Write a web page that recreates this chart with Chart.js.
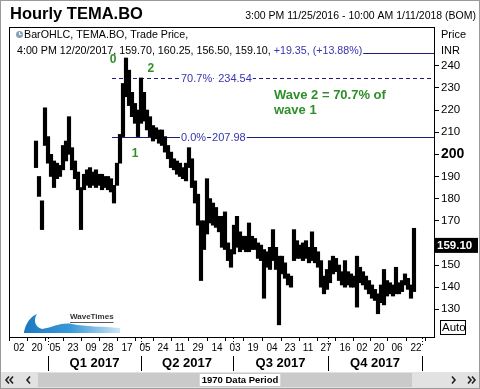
<!DOCTYPE html>
<html><head><meta charset="utf-8">
<script src="https://cdn.jsdelivr.net/npm/chart.js@4/dist/chart.umd.min.js"></script>
<style>html,body{margin:0;padding:0;background:#fff}#wrap{width:480px;height:389px;position:relative}</style>
</head><body><div id="wrap"><canvas id="c" width="480" height="389"></canvas></div>
<script>
// ---- data (one column ≈ 2 trading days, hourly high/low envelope) ----
const barLows  = [194,181,166,204,196,190,185,189,190,193,197,200,193,189,184,166,184,186,185,186,185,186,184,185,184,183,178,186,196,208,226,222,217,214,208,214,215,211,208,206,207,205,204,201,198,194,193,191,190,189,188,194,185,178,168,143,157,164,169,168,167,165,158,157,152,149,155,158,156,157,156,156,157,157,153,152,135,149,148,152,148,123,146,144,141,140,152,153,153,152,153,151,152,151,149,140,137,139,142,146,147,143,141,140,141,140,140,131,142,141,139,137,135,134,128,133,132,136,137,136,137,137,138,141,139,135,138];
const barHighs = [206,190,179,221,208,200,197,196,195,204,206,217,203,197,192,185,191,193,194,192,193,191,191,190,190,189,186,196,209,232,243.5,238,228,223,220,234.5,228,220,217,213,212,211,211,208,204,201,198,197,196,194,196,203,198,188,182,170,170,189,180,178,176,172,172,174,160,157,168,172,165,163,163,169,163,162,160,159,157,156,158,166,158,154,154,151,146,145,166,161,159,160,161,158,165,158,156,152,145,148,152,154,153,150,147,152,147,146,145,154,149,147,145,143,141,139,137,141,148,143,142,141,149,142,143,146,144,141,166.6];
const dateTickIndex  = [-5.67,0.33,6.33,12.33,18.33,24,30.33,36.33,42.33,48,54,60.33,66.33,72.33,78.67,84.67,90.67,96.67,103,108.67,114.33,120.33,126.67];
const dateTickLabels = ['02','20','05','23','09','28','17','05','24','11','29','14','03','19','04','23','11','27','16','02','20','06','22'];
const quarterBounds  = [4,35,65.67,97.33,128.67];
const quarterLabels  = ['Q1 2017','Q2 2017','Q3 2017','Q4 2017'];
const priceTicks     = [130,140,150,160,170,180,190,200,210,220,230,240];
const fibStartIndex  = 25.33;
const fibPercents    = ['100%','70.7%','0.0%'];
const fibPrices      = [245.55,234.54,207.98];
const waveLabels     = ['0','1','2'];
const waveIndex      = [25.7,33,38.3];
const wavePrice      = [242.8,200.2,238.8];
const lastClose      = 159.10;
const headerTitle    = 'Hourly TEMA.BO';
const headerRange    = '3:00 PM 11/25/2016 - 10:00 AM 1/11/2018 (BOM)';
const infoLine1      = 'BarOHLC, TEMA.BO, Trade Price,';
const infoLine2a     = '4:00 PM 12/20/2017, 159.70, 160.25, 156.50, 159.10, ';
const infoLine2b     = '+19.35, (+13.88%)';
const noteLines      = ['Wave 2 = 70.7% of','wave 1'];
const dataPeriodText = '1970 Data Period';

const FONT = '"Liberation Sans", Arial, sans-serif';
const BLUE = '#3535b0', NAVY = '#1c1c7a', GREEN = '#2f8f2a';

const bars = barLows.map((lo,i)=>({x:i, y:[lo, barHighs[i]]}));

const decor = {
  id:'decor',
  beforeDatasetsDraw(chart){
    const ctx = chart.ctx, xs = chart.scales.x, ys = chart.scales.y, a = chart.chartArea;
    ctx.save();
    const x0 = xs.getPixelForValue(fibStartIndex);
    fibPrices.forEach((p,k)=>{
      const y = Math.round(ys.getPixelForValue(p))+0.5;
      ctx.strokeStyle = NAVY; ctx.lineWidth = 1;
      ctx.setLineDash(k===1?[4,3]:[]);
      ctx.beginPath(); ctx.moveTo(x0,y); ctx.lineTo(a.right,y); ctx.stroke();
    });
    ctx.setLineDash([]);
    // logo
    const lx = a.left+15, ly = a.bottom-5;
    const g = ctx.createLinearGradient(lx,0,lx+96,0);
    g.addColorStop(0,'#1a78c2'); g.addColorStop(0.5,'#3d9ad8'); g.addColorStop(1,'#cde6f6');
    ctx.fillStyle = g;
    ctx.beginPath(); ctx.moveTo(lx,ly);
    ctx.bezierCurveTo(lx+2,ly-9,lx+6,ly-15,lx+13,ly-18);
    ctx.bezierCurveTo(lx+9,ly-12,lx+11,ly-5,lx+18,ly-3);
    ctx.bezierCurveTo(lx+30,ly-5,lx+38,ly-10,lx+48,ly-8);
    ctx.bezierCurveTo(lx+62,ly-5,lx+78,ly-6,lx+96,ly-4);
    ctx.lineTo(lx+96,ly+1); ctx.lineTo(lx,ly+1); ctx.closePath(); ctx.fill();
    ctx.fillStyle='#333'; ctx.font='bold 8px '+FONT; ctx.textBaseline='middle'; ctx.textAlign='left';
    ctx.fillText('WaveTimes', lx+46, ly-15);
    ctx.fillRect(lx+46, ly-10, ctx.measureText('WaveTimes').width, 0.8);
    ctx.restore();
  },
  afterDraw(chart){
    const ctx = chart.ctx, xs = chart.scales.x, ys = chart.scales.y, a = chart.chartArea;
    ctx.save();
    // frame
    ctx.strokeStyle='#000'; ctx.lineWidth=1;
    ctx.strokeRect(a.left+0.5, a.top+0.5, a.right-a.left, a.bottom-a.top);
    ctx.strokeStyle='#9a9a9a'; ctx.strokeRect(0.5,0.5,479,388);
    // header
    ctx.fillStyle='#000'; ctx.textBaseline='middle'; ctx.textAlign='left';
    ctx.font='bold 16.5px '+FONT; ctx.fillText(headerTitle, 10, 14);
    ctx.font='10.5px '+FONT; ctx.textAlign='right'; ctx.fillText(headerRange, 476, 16);
    // info lines
    ctx.textAlign='left'; ctx.font='10.7px '+FONT;
    const w2a = ctx.measureText(infoLine2a).width, w2b = ctx.measureText(infoLine2b).width;
    ctx.fillStyle='#fff'; ctx.fillRect(16, 45, w2a+w2b+2, 12);
    ctx.fillStyle='#000'; ctx.fillText(infoLine1, 24, 35);
    ctx.fillText(infoLine2a, 17, 51);
    ctx.fillStyle=BLUE; ctx.fillText(infoLine2b, 17+w2a, 51);
    // clock icon
    ctx.fillStyle='#8aa0b8'; ctx.beginPath(); ctx.arc(19.5,34.5,3.5,0,Math.PI*2); ctx.fill();
    ctx.strokeStyle='#fff'; ctx.beginPath(); ctx.moveTo(19.5,32); ctx.lineTo(19.5,34.5); ctx.lineTo(21.5,34.5); ctx.stroke();
    // fib labels
    const x0 = xs.getPixelForValue(fibStartIndex);
    ctx.font='11px '+FONT;
    fibPrices.forEach((p,k)=>{
      if(k===0) return;
      const y = Math.round(ys.getPixelForValue(p))+0.5;
      const px = x0 + 69;
      const t1 = fibPercents[k], t2 = p.toFixed(2);
      const w1 = ctx.measureText(t1).width, w2 = ctx.measureText(t2).width;
      const vx = px + w1 + 6;
      ctx.fillStyle='#fff'; ctx.fillRect(px-1,y-6,w1+2,12); ctx.fillRect(vx-1,y-6,w2+2,12);
      ctx.fillStyle=BLUE; ctx.fillText(t1, px, y); ctx.fillText(t2, vx, y);
    });
    // wave labels
    ctx.font='bold 12px '+FONT; ctx.fillStyle=GREEN; ctx.textAlign='center';
    waveLabels.forEach((t,k)=>ctx.fillText(t, xs.getPixelForValue(waveIndex[k]), ys.getPixelForValue(wavePrice[k])));
    ctx.font='bold 13px '+FONT; ctx.textAlign='left';
    ctx.fillText(noteLines[0], 274, 95); ctx.fillText(noteLines[1], 274, 110);
    // right side labels
    ctx.fillStyle='#000'; ctx.font='11px '+FONT;
    ctx.fillText('Price', 441, 35); ctx.fillText('INR', 441, 51);
    const cy = ys.getPixelForValue(lastClose);
    ctx.fillStyle='#000'; ctx.fillRect(435, cy-7, 43, 15);
    ctx.fillStyle='#fff'; ctx.font='bold 11.5px '+FONT; ctx.fillText(lastClose.toFixed(2), 437, cy+0.5);
    ctx.fillStyle='#000'; ctx.font='11.5px '+FONT;
    ctx.strokeStyle='#000'; ctx.strokeRect(440.5, 320.5, 25, 14);
    ctx.fillText('Auto', 442, 328);
    // quarters
    ctx.font='bold 13px '+FONT; ctx.textAlign='center';
    quarterBounds.forEach(q=>{
      const x = Math.round(xs.getPixelForValue(q))+0.5;
      ctx.beginPath(); ctx.moveTo(x,356); ctx.lineTo(x,371); ctx.stroke();
      ctx.setLineDash([1,2]); ctx.beginPath(); ctx.moveTo(x,338); ctx.lineTo(x,346); ctx.stroke(); ctx.setLineDash([]);
    });
    quarterLabels.forEach((t,k)=>{
      const x = (xs.getPixelForValue(quarterBounds[k])+xs.getPixelForValue(quarterBounds[k+1]))/2;
      ctx.fillText(t, x, 363);
    });
    // bottom scroll bar
    ctx.fillStyle='#e2e2e2'; ctx.fillRect(1,372,478,16);
    ctx.fillStyle='#cacaca'; ctx.fillRect(38,373,374,14);
    ctx.font='bold 9.5px '+FONT; ctx.textAlign='center';
    const wd = ctx.measureText(dataPeriodText).width;
    ctx.fillStyle='#fff'; ctx.fillRect(240-wd/2-2,374,wd+4,12);
    ctx.fillStyle='#000'; ctx.fillText(dataPeriodText, 240, 380.5);
    ctx.strokeStyle='#222'; ctx.lineWidth=1.6;
    const chev=(x,dir)=>{ctx.beginPath(); ctx.moveTo(x+3*dir,376.5); ctx.lineTo(x,380); ctx.lineTo(x+3*dir,383.5); ctx.stroke();};
    chev(6,1); chev(10,1); chev(27,1);
    chev(455,-1); chev(471,-1); chev(475,-1);
    ctx.restore();
  }
};

new Chart(document.getElementById('c'), {
  type:'bar',
  data:{ datasets:[{ data: bars, backgroundColor:'#000', borderWidth:0, barThickness:3.5 }] },
  options:{
    responsive:false, animation:false,
    layout:{ padding:{ left:9, top:27, right:0, bottom:0 } },
    plugins:{ legend:{display:false}, tooltip:{enabled:false} },
    scales:{
      x:{
        type:'linear', min:-9, max:132.67, offset:false,
        afterBuildTicks:s=>{ s.ticks = dateTickIndex.map(v=>({value:v})); },
        afterFit:s=>{ s.height = 52; },
        ticks:{ autoSkip:false, maxRotation:0, padding:1, color:'#000', font:{family:FONT,size:10},
          callback:(v,i)=>dateTickLabels[i] },
        grid:{ drawOnChartArea:false, drawTicks:true, tickLength:4, color:'#000' },
        border:{ display:true, color:'#000' }
      },
      y:{
        position:'right', min:117.5, max:257.5,
        afterBuildTicks:s=>{ s.ticks = priceTicks.map(v=>({value:v})); },
        afterFit:s=>{ s.width = 46; },
        ticks:{ padding:2, color:'#000', callback:v=>String(v),
          font:c=> (c.tick && c.tick.value===200) ? {family:FONT,size:14,weight:'bold'} : {family:FONT,size:11.5} },
        grid:{ drawOnChartArea:false, drawTicks:true, tickLength:5, color:'#000' },
        border:{ display:true, color:'#000' }
      }
    }
  },
  plugins:[decor]
});
</script></body></html>
